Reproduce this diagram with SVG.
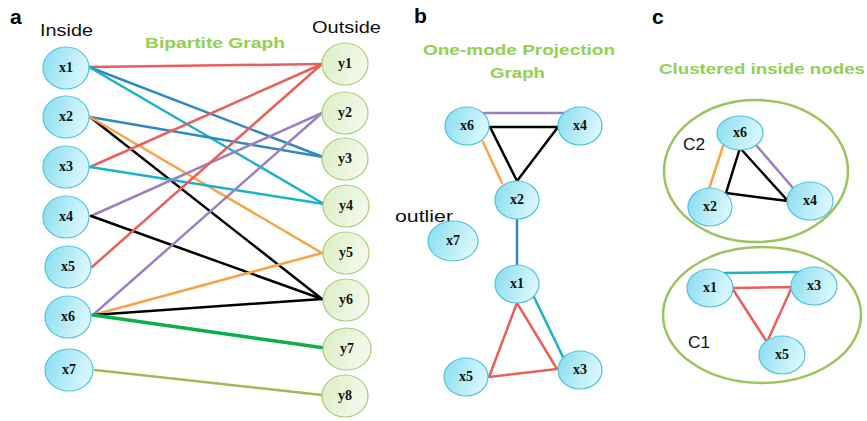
<svg xmlns="http://www.w3.org/2000/svg" width="867" height="421" viewBox="0 0 867 421">
<defs>
<linearGradient id="gc" x1="0" y1="0" x2="1" y2="0.3">
<stop offset="0" stop-color="#86DCEF"/><stop offset="1" stop-color="#D8F7FD"/>
</linearGradient>
<linearGradient id="gg" x1="0" y1="0" x2="1" y2="0.3">
<stop offset="0" stop-color="#DAEEC4"/><stop offset="1" stop-color="#F2F9EA"/>
</linearGradient>
</defs>
<style>
.xn{fill:url(#gc);stroke:#4FC3DB;stroke-width:1.2}
.yn{fill:url(#gg);stroke:#A6CD7A;stroke-width:1.2}
.nl{font-family:"Liberation Serif",serif;font-weight:bold;font-size:14px;fill:#111;text-anchor:middle}
.e{fill:none;stroke-width:2.5;stroke-linecap:round;stroke-linejoin:round}
.red{stroke:#E8605B}.blue{stroke:#2E89C3}.teal{stroke:#19B3C9}.blk{stroke:#000}
.org{stroke:#F8A24A}.pur{stroke:#9B80BF}.grn{stroke:#0BAF4C;stroke-width:3.5}.olv{stroke:#9BBB59}
.ttl{font-family:"Liberation Sans",Arial,sans-serif;font-weight:bold;font-size:15px;fill:#92D050}
.lbl{font-family:"Liberation Sans",Arial,sans-serif;font-size:17px;fill:#111}
.pn{font-family:"Liberation Sans",Arial,sans-serif;font-weight:bold;font-size:21px;fill:#000}
.cl{fill:none;stroke:#9BC35E;stroke-width:2.5}
</style>

<g id="labels">
<text class="pn" x="10" y="24">a</text>
<text class="pn" x="414" y="23">b</text>
<text class="pn" x="652" y="24">c</text>
<text class="lbl" x="40" y="36" textLength="53" lengthAdjust="spacingAndGlyphs">Inside</text>
<text class="lbl" x="312" y="33" textLength="69" lengthAdjust="spacingAndGlyphs">Outside</text>
<text class="ttl" x="145" y="48" textLength="140" lengthAdjust="spacingAndGlyphs">Bipartite Graph</text>
<text class="ttl" x="423" y="55" textLength="192" lengthAdjust="spacingAndGlyphs">One-mode Projection</text>
<text class="ttl" x="490" y="78" textLength="55" lengthAdjust="spacingAndGlyphs">Graph</text>
<text class="lbl" x="395" y="222" textLength="58" lengthAdjust="spacingAndGlyphs">outlier</text>
<text class="ttl" x="659" y="74" textLength="206" lengthAdjust="spacingAndGlyphs">Clustered inside nodes</text>
<text class="lbl" x="683" y="150" textLength="22" lengthAdjust="spacingAndGlyphs">C2</text>
<text class="lbl" x="688" y="348" textLength="22" lengthAdjust="spacingAndGlyphs">C1</text>
</g>

<g id="clusters">
<ellipse id="C2" class="cl" cx="756" cy="171" rx="92" ry="71"/>
<ellipse id="C1" class="cl" cx="762" cy="315" rx="99" ry="68"/>
</g>

<g id="connectors">
<line class="e red" x1="89" y1="67" x2="322" y2="64"/>
<line class="e blue" x1="89" y1="67" x2="323" y2="157"/>
<line class="e teal" x1="89" y1="67" x2="324" y2="204"/>
<line class="e blue" x1="90" y1="117" x2="323" y2="157"/>
<line class="e blk" x1="90" y1="117" x2="322" y2="299"/>
<line class="e org" x1="90" y1="117" x2="322" y2="253"/>
<line class="e red" x1="90" y1="167" x2="322" y2="64"/>
<line class="e teal" x1="90" y1="167" x2="324" y2="204"/>
<line class="e pur" x1="91" y1="216" x2="322" y2="113"/>
<line class="e blk" x1="91" y1="216" x2="322" y2="299"/>
<line class="e red" x1="92" y1="267" x2="322" y2="64"/>
<line class="e pur" x1="94" y1="314" x2="322" y2="113"/>
<line class="e org" x1="93" y1="315" x2="322" y2="253"/>
<line class="e blk" x1="93" y1="315" x2="322" y2="299"/>
<line class="e grn" x1="93" y1="315" x2="325" y2="348"/>
<line class="e olv" x1="95" y1="370" x2="322" y2="395"/>
<line class="e pur" x1="484" y1="113" x2="565" y2="113"/>
<polyline class="e blk" points="490,127 558,127 517,181 490,127"/>
<line class="e org" x1="483" y1="142" x2="502" y2="183"/>
<line class="e blue" x1="517" y1="218" x2="517" y2="265"/>
<line class="e teal" x1="534" y1="297" x2="563" y2="357"/>
<polygon class="e red" points="517,303 489,377 557,369"/>
<line class="e org" x1="723" y1="146" x2="709" y2="189"/>
<line class="e pur" x1="756" y1="145" x2="793" y2="188"/>
<polygon class="e blk" points="740,148 726,193 788,201"/>
<line class="e teal" x1="725" y1="273" x2="799" y2="272"/>
<polygon class="e red" points="732,288 792,287 767,342"/>
</g>

<g id="a-x1"><ellipse class="xn" cx="66" cy="68" rx="23" ry="21"/><text class="nl" x="66" y="72">x1</text></g>
<g id="a-x2"><ellipse class="xn" cx="66" cy="117" rx="23" ry="21"/><text class="nl" x="66" y="121">x2</text></g>
<g id="a-x3"><ellipse class="xn" cx="66" cy="167" rx="23" ry="21"/><text class="nl" x="66" y="171">x3</text></g>
<g id="a-x4"><ellipse class="xn" cx="66" cy="217" rx="23" ry="21"/><text class="nl" x="66" y="221">x4</text></g>
<g id="a-x5"><ellipse class="xn" cx="68" cy="267" rx="23" ry="21"/><text class="nl" x="68" y="271">x5</text></g>
<g id="a-x6"><ellipse class="xn" cx="68" cy="317" rx="23" ry="21"/><text class="nl" x="68" y="321">x6</text></g>
<g id="a-x7"><ellipse class="xn" cx="69" cy="370" rx="24" ry="21"/><text class="nl" x="69" y="374">x7</text></g>

<g id="a-y1"><ellipse class="yn" cx="345" cy="64" rx="23" ry="21"/><text class="nl" x="345" y="68">y1</text></g>
<g id="a-y2"><ellipse class="yn" cx="345" cy="113" rx="23" ry="21"/><text class="nl" x="345" y="117">y2</text></g>
<g id="a-y3"><ellipse class="yn" cx="345" cy="159" rx="23" ry="21"/><text class="nl" x="345" y="163">y3</text></g>
<g id="a-y4"><ellipse class="yn" cx="346" cy="206" rx="23" ry="21"/><text class="nl" x="346" y="210">y4</text></g>
<g id="a-y5"><ellipse class="yn" cx="346" cy="253" rx="23" ry="21"/><text class="nl" x="346" y="257">y5</text></g>
<g id="a-y6"><ellipse class="yn" cx="346" cy="300" rx="23" ry="21"/><text class="nl" x="346" y="304">y6</text></g>
<g id="a-y7"><ellipse class="yn" cx="347" cy="349" rx="24" ry="21"/><text class="nl" x="347" y="353">y7</text></g>
<g id="a-y8"><ellipse class="yn" cx="345" cy="396" rx="23" ry="21"/><text class="nl" x="345" y="400">y8</text></g>

<g id="b-x6"><ellipse class="xn" cx="467" cy="126" rx="22" ry="19"/><text class="nl" x="467" y="130">x6</text></g>
<g id="b-x4"><ellipse class="xn" cx="580" cy="126" rx="22" ry="19"/><text class="nl" x="580" y="130">x4</text></g>
<g id="b-x2"><ellipse class="xn" cx="517" cy="200" rx="22" ry="19"/><text class="nl" x="517" y="204">x2</text></g>
<g id="b-x7"><ellipse class="xn" cx="453" cy="241" rx="25" ry="20"/><text class="nl" x="453" y="245">x7</text></g>
<g id="b-x1"><ellipse class="xn" cx="517" cy="284" rx="22" ry="19"/><text class="nl" x="517" y="288">x1</text></g>
<g id="b-x5"><ellipse class="xn" cx="466" cy="377" rx="22" ry="19"/><text class="nl" x="466" y="381">x5</text></g>
<g id="b-x3"><ellipse class="xn" cx="580" cy="370" rx="22" ry="19"/><text class="nl" x="580" y="374">x3</text></g>

<g id="c-x6"><ellipse class="xn" cx="740" cy="133" rx="23" ry="17"/><text class="nl" x="740" y="137">x6</text></g>
<g id="c-x2"><ellipse class="xn" cx="710" cy="207" rx="22" ry="19"/><text class="nl" x="710" y="211">x2</text></g>
<g id="c-x4"><ellipse class="xn" cx="810" cy="201" rx="23" ry="19"/><text class="nl" x="810" y="205">x4</text></g>
<g id="c-x1"><ellipse class="xn" cx="710" cy="288" rx="23" ry="19"/><text class="nl" x="710" y="292">x1</text></g>
<g id="c-x3"><ellipse class="xn" cx="814" cy="286" rx="23" ry="19"/><text class="nl" x="814" y="290">x3</text></g>
<g id="c-x5"><ellipse class="xn" cx="782" cy="355" rx="23" ry="19"/><text class="nl" x="782" y="359">x5</text></g>
</svg>
